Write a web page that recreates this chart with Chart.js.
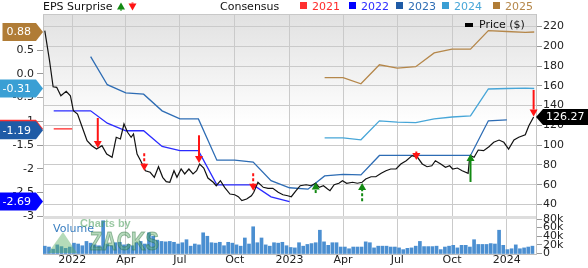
<!DOCTYPE html>
<html>
<head>
<meta charset="utf-8">
<script src="https://cdn.jsdelivr.net/npm/chart.js@4.4.1/dist/chart.umd.min.js"></script>
<style>
  html, body { margin: 0; padding: 0; background: #fff; }
  #wrap { width: 588px; height: 268px; }
</style>
</head>
<body>
<div id="wrap"><canvas id="eps-chart" width="588" height="268"></canvas></div>
<script>
/* ========================================================
   DATA (days are counted from 2022-01-01)
   ======================================================== */
const quarterDates = ['2022-01-01', '2022-04-01', '2022-07-01', '2022-10-01', '2023-01-01',
                      '2023-04-01', '2023-07-01', '2023-10-01', '2024-01-01'];
const quarterLabels = ['2022', 'Apr', 'Jul', 'Oct', '2023', 'Apr', 'Jul', 'Oct', '2024'];

const epsTicks = [0.5, 0, -0.5, -1, -1.5, -2, -2.5, -3];
const priceTicks = [40, 60, 80, 100, 120, 140, 160, 180, 200, 220];
const volumeTicks = [0, 20, 40, 60, 80]; // thousands

// weekly price line
const priceDays = [-46, -38, -32, -26, -19, -10, -3, 2, 9, 16, 25, 33, 41, 50, 58, 67, 74, 81, 87, 93,
  99, 103, 109, 115, 123, 131, 138, 145, 152, 158, 164, 171, 176, 183, 189, 196, 203, 209, 214, 221,
  228, 237, 242, 249, 256, 265, 273, 279, 285, 293, 301, 305, 312, 321, 329, 337, 346, 354, 362, 368,
  376, 383, 393, 401, 409, 415, 422, 429, 433, 440, 448, 454, 461, 471, 479, 487, 493, 502, 510, 519,
  527, 535, 544, 552, 561, 571, 580, 588, 596, 604, 610, 619, 627, 634, 639, 647, 655, 665, 667, 669,
  675, 682, 691, 700, 708, 717, 725, 733, 742, 750, 761, 767, 775];
const priceValues = [215.8, 185.4, 159.1, 158.5, 150.0, 154.5, 150.0, 134.9, 131.5, 119.7, 104.5, 99.5,
  96.1, 99.5, 91.1, 87.7, 108.0, 106.3, 121.4, 113.0, 108.0, 111.3, 91.1, 84.3, 74.2, 72.6, 67.5, 78.2,
  67.5, 63.1, 62.5, 74.2, 67.5, 75.9, 70.9, 75.9, 70.9, 74.2, 81.0, 76.9, 66.8, 62.5, 59.0, 64.1, 57.4,
  50.6, 49.9, 47.9, 43.9, 45.6, 48.9, 52.4, 62.5, 57.4, 56.4, 56.4, 52.4, 49.9, 48.9, 47.9, 54.0, 59.0,
  60.0, 59.0, 61.5, 57.4, 59.0, 55.7, 54.0, 60.0, 61.5, 64.1, 61.5, 62.5, 61.5, 62.5, 65.8, 68.1, 68.1,
  71.6, 74.2, 75.9, 75.9, 81.0, 84.3, 89.4, 87.7, 81.0, 78.2, 79.2, 84.3, 81.0, 77.6, 79.2, 75.9, 76.9,
  74.2, 71.6, 84.3, 89.4, 87.7, 95.1, 94.4, 98.5, 102.9, 105.2, 102.9, 96.1, 105.2, 108.0, 110.6, 119.7,
  128.5];
const lastPrice = '126.27';

// weekly volume, thousands
const volumeStart = '2021-11-16';
const volumeValues = [17, 15, 10, 20, 16, 12, 15, 24, 22, 18, 28, 24, 20, 18, 76, 22, 18, 25, 26, 20,
  21, 18, 25, 28, 22, 48, 40, 31, 28, 27, 28, 26, 22, 25, 32, 17, 22, 20, 48, 40,
  25, 24, 26, 18, 26, 24, 20, 17, 36, 22, 62, 25, 36, 20, 17, 25, 24, 26, 18, 14,
  13, 25, 17, 21, 23, 25, 54, 27, 19, 25, 25, 15, 15, 11, 15, 15, 15, 27, 25, 13,
  17, 17, 17, 15, 15, 13, 9, 12, 13, 17, 28, 16, 16, 16, 17, 9, 15, 17, 19, 13,
  19, 19, 15, 32, 21, 21, 21, 23, 22, 54, 19, 9, 11, 20, 11, 13, 15, 17];

// monthly consensus EPS by fiscal year
const consDates = ['2021-12-01', '2022-01-01', '2022-02-01', '2022-03-01', '2022-04-01', '2022-05-01',
  '2022-06-01', '2022-07-01', '2022-08-01', '2022-09-01', '2022-10-01', '2022-11-01', '2022-12-01',
  '2023-01-01', '2023-02-01', '2023-03-01', '2023-04-01', '2023-05-01', '2023-06-01', '2023-07-01',
  '2023-08-01', '2023-09-01', '2023-10-01', '2023-11-01', '2023-12-01', '2024-01-01', '2024-02-01',
  '2024-02-16'];
const cons2021 = [-1.16, -1.16, null, null, null, null, null, null, null, null, null, null, null, null,
  null, null, null, null, null, null, null, null, null, null, null, null, null, null];
const cons2022 = [-0.78, -0.78, -0.78, -1.04, -1.20, -1.20, -1.53, -1.62, -1.62, -2.34, -2.34, -2.34,
  -2.59, -2.69, null, null, null, null, null, null, null, null, null, null, null, null, null, null];
const cons2023 = [null, null, 0.36, -0.23, -0.40, -0.43, -0.78, -0.95, -0.95, -1.82, -1.82, -1.86,
  -2.25, -2.40, -2.43, -2.15, -2.12, -2.13, -1.72, -1.72, -1.72, -1.72, -1.72, -1.72, -0.99, -0.97,
  null, null];
const cons2024 = [null, null, null, null, null, null, null, null, null, null, null, null, null, null,
  null, -1.35, -1.35, -1.39, -0.99, -1.02, -1.03, -0.95, -0.91, -0.885, -0.32, -0.31, -0.30, -0.31];
const cons2025 = [null, null, null, null, null, null, null, null, null, null, null, null, null, null,
  null, -0.08, -0.08, -0.21, 0.19, 0.12, 0.15, 0.44, 0.52, 0.52, 0.91, 0.89, 0.87, 0.88];

// current consensus labels on the left axis
const badgeYears = ['2021', '2025', '2024', '2023', '2022'];
const badgeValues = [-1.16, 0.88, -0.31, -1.19, -2.69];

// EPS surprises: tip and tail in price units
const surpriseDays = [43, 121, 213, 304, 409, 487, 578, 669, 775];
const surpriseTip = [97.2, 74.2, 82.0, 54.0, 62.3, 61.8, 85.0, 91.1, 129.0];
const surpriseTail = [127.5, 91.8, 110.0, 71.6, 51.6, 43.3, 93.6, 62.8, 155.8];
const surpriseBeat = [false, false, false, false, true, true, false, true, false];
const surpriseMinor = [false, true, false, true, true, true, false, false, false];

/* ========================================================
   HELPERS / STYLE
   ======================================================== */
const DAY0 = Date.UTC(2022, 0, 1);
function dayOf(s) {
  const [y, m, d] = s.split('-').map(Number);
  return Math.round((Date.UTC(y, m - 1, d) - DAY0) / 864e5);
}

const yearColors = {
  '2021': '#ff2a2a',
  '2022': '#2b2bff',
  '2023': '#2d6cb4',
  '2024': '#47a6d8',
  '2025': '#b5874a'
};
const badgeColors = {
  '2021': '#ff3030',
  '2022': '#0000ff',
  '2023': '#1f5ba6',
  '2024': '#3a9fd4',
  '2025': '#b07c36'
};

// axis ranges chosen so the three panels line up with the picture
const X_MIN = -49, X_MAX = 779;
const EPS_MIN = -3.795, EPS_MAX = 1.259;
const PRICE_MIN = -10.03, PRICE_MAX = 232.64;
const VOL_MIN = -1.16, VOL_MAX = 555.4;
const FONT = "'DejaVu Sans', sans-serif";

function volToPrice(v) {
  return PRICE_MIN + (v - VOL_MIN) / (VOL_MAX - VOL_MIN) * (PRICE_MAX - PRICE_MIN);
}

function consSeries(values) {
  const out = [];
  values.forEach((v, i) => {
    if (v !== null) out.push({ x: dayOf(consDates[i]), y: v });
  });
  return out;
}

/* ========================================================
   PLUGINS
   ======================================================== */
const backdropPlugin = {
  id: 'backdrop',
  beforeDraw(chart) {
    const { ctx, chartArea: a } = chart;
    const panelTop = a.bottom - 37;
    const g = ctx.createLinearGradient(0, a.top, 0, a.top + 110);
    g.addColorStop(0, '#e1e1e1');
    g.addColorStop(1, '#ffffff');
    ctx.save();
    ctx.fillStyle = g;
    ctx.fillRect(a.left, a.top, a.right - a.left, panelTop - a.top);
    ctx.restore();
  },
  beforeDatasetsDraw(chart) {
    const { ctx, chartArea: a } = chart;
    const panelTop = a.bottom - 37;
    ctx.save();
    ctx.fillStyle = '#dddddd';
    ctx.fillRect(a.left, panelTop - 1, a.right - a.left, 3);
    ctx.strokeStyle = '#c8c8c8';
    ctx.lineWidth = 1;
    ctx.beginPath();
    ctx.moveTo(a.left, a.top + 0.5);
    ctx.lineTo(a.right, a.top + 0.5);
    ctx.stroke();
    ctx.restore();
  }
};

function drawArrow(ctx, x, yTail, yTip, color, dashed) {
  const dir = yTip > yTail ? 1 : -1;
  const headH = 7, headW = 4;
  ctx.save();
  ctx.strokeStyle = color;
  ctx.fillStyle = color;
  ctx.lineWidth = 2;
  if (dashed) ctx.setLineDash([3, 2]);
  ctx.beginPath();
  ctx.moveTo(x, yTail);
  ctx.lineTo(x, yTip - dir * headH);
  ctx.stroke();
  ctx.setLineDash([]);
  ctx.beginPath();
  ctx.moveTo(x - headW, yTip - dir * headH);
  ctx.lineTo(x + headW, yTip - dir * headH);
  ctx.lineTo(x, yTip);
  ctx.closePath();
  ctx.fill();
  ctx.restore();
}

const annotatePlugin = {
  id: 'annotate',
  afterDatasetsDraw(chart) {
    const { ctx, chartArea: a, scales } = chart;

    // volume label + watermark
    ctx.save();
    ctx.font = '11px ' + FONT;
    ctx.fillStyle = '#3a7fc1';
    ctx.textBaseline = 'alphabetic';
    ctx.fillText('Volume', a.left + 10, a.bottom - 22);

    ctx.fillStyle = 'rgba(70,155,85,0.55)';
    ctx.font = "bold 11px 'Liberation Sans', sans-serif";
    ctx.fillText('Charts by', a.left + 37, a.bottom - 27);

    ctx.beginPath();
    ctx.moveTo(a.left + 5, a.bottom - 1);
    ctx.lineTo(a.left + 20, a.bottom - 22);
    ctx.lineTo(a.left + 34, a.bottom - 1);
    ctx.closePath();
    ctx.fillStyle = 'rgba(90,175,100,0.45)';
    ctx.fill();

    ctx.translate(a.left + 47, a.bottom - 4);
    ctx.scale(0.8, 1);
    ctx.font = "bold 25px 'Liberation Sans', sans-serif";
    ctx.fillStyle = 'rgba(80,165,95,0.42)';
    ctx.fillText('ZACKS', 0, 0);
    ctx.strokeStyle = 'rgba(40,110,60,0.45)';
    ctx.lineWidth = 1;
    ctx.strokeText('ZACKS', 0, 0);
    ctx.restore();

    // surprise arrows
    surpriseDays.forEach((d, i) => {
      const x = scales.x.getPixelForValue(d);
      const yTip = scales.yPrice.getPixelForValue(surpriseTip[i]);
      const yTail = scales.yPrice.getPixelForValue(surpriseTail[i]);
      drawArrow(ctx, x, yTail, yTip, surpriseBeat[i] ? '#138a13' : '#ff1414', surpriseMinor[i]);
    });
  },
  afterDraw(chart) {
    const { ctx, chartArea: a, scales } = chart;
    ctx.save();
    ctx.font = '11px ' + FONT;
    ctx.textBaseline = 'middle';

    // left consensus badges
    badgeValues.forEach((v, i) => {
      const y = scales.yEps.getPixelForValue(v);
      const label = v.toFixed(2);
      const w = ctx.measureText(label).width;
      const right = a.left - 7;
      const left = right - 5 - w - 4;
      ctx.beginPath();
      ctx.moveTo(left, y - 9);
      ctx.lineTo(right, y - 9);
      ctx.lineTo(a.left, y);
      ctx.lineTo(right, y + 9);
      ctx.lineTo(left, y + 9);
      ctx.closePath();
      ctx.fillStyle = badgeColors[badgeYears[i]];
      ctx.fill();
      ctx.fillStyle = '#ffffff';
      ctx.textAlign = 'right';
      ctx.fillText(label, right - 5, y + 0.5);
    });

    // last price badge
    const py = scales.yPrice.getPixelForValue(priceValues[priceValues.length - 1]);
    ctx.beginPath();
    ctx.moveTo(a.right, py);
    ctx.lineTo(a.right + 7, py - 8);
    ctx.lineTo(chart.width, py - 8);
    ctx.lineTo(chart.width, py + 8);
    ctx.lineTo(a.right + 7, py + 8);
    ctx.closePath();
    ctx.fillStyle = '#000000';
    ctx.fill();
    ctx.fillStyle = '#ffffff';
    ctx.textAlign = 'left';
    ctx.fillText(lastPrice, a.right + 10, py + 0.5);

    // price legend inside the plot
    ctx.fillStyle = '#000000';
    ctx.fillRect(465, 23, 8, 4);
    ctx.fillStyle = '#111111';
    ctx.fillText('Price ($)', 479, 25.5);

    // top legend
    ctx.textBaseline = 'alphabetic';
    ctx.fillText('EPS Surprise', a.left, 10);
    drawArrow(ctx, 121, 10.5, 2.5, '#138a13', false);
    drawArrow(ctx, 132.5, 2.5, 10.5, '#ff1414', false);
    ctx.fillStyle = '#111111';
    ctx.fillText('Consensus', 220, 10);
    const legendX = [300, 349, 396, 442, 493];
    ['2021', '2022', '2023', '2024', '2025'].forEach((yr, i) => {
      ctx.fillStyle = badgeColors[yr];
      ctx.fillRect(legendX[i], 2, 7, 7);
      ctx.fillStyle = yearColors[yr];
      ctx.fillText(yr, legendX[i] + 12, 10);
    });
    ctx.restore();
  }
};

/* ========================================================
   CHART
   ======================================================== */
const quarterDays = quarterDates.map(dayOf);
const volStartDay = dayOf(volumeStart);

const datasets = [
  {
    type: 'line',
    label: 'Price ($)',
    data: priceDays.map((d, i) => ({ x: d, y: priceValues[i] })),
    yAxisID: 'yPrice',
    borderColor: '#111111',
    borderWidth: 1.2,
    pointRadius: 0,
    order: 0
  }
];
[['2021', cons2021], ['2022', cons2022], ['2023', cons2023], ['2024', cons2024], ['2025', cons2025]]
  .forEach(([yr, vals]) => {
    datasets.push({
      type: 'line',
      label: yr,
      data: consSeries(vals),
      yAxisID: 'yEps',
      borderColor: yearColors[yr],
      borderWidth: 1.3,
      pointRadius: 0,
      order: 1
    });
  });
datasets.push({
  type: 'bar',
  label: 'Volume',
  data: volumeValues.map((v, i) => ({ x: volStartDay + 7 * i, y: v })),
  yAxisID: 'yVol',
  backgroundColor: '#4b8fd1',
  barThickness: 3,
  borderWidth: 0,
  order: 2
});

Chart.defaults.font.family = FONT;
Chart.defaults.font.size = 11;
Chart.defaults.color = '#222222';

new Chart(document.getElementById('eps-chart').getContext('2d'), {
  type: 'line',
  data: { datasets },
  options: {
    responsive: false,
    animation: false,
    devicePixelRatio: 1,
    layout: { padding: { top: 14, left: 0, right: 0, bottom: 0 } },
    plugins: { legend: { display: false }, tooltip: { enabled: false } },
    scales: {
      x: {
        type: 'linear',
        min: X_MIN,
        max: X_MAX,
        offset: false,
        afterBuildTicks: s => { s.ticks = quarterDays.map(v => ({ value: v })); },
        afterFit: s => { s.height = 14; },
        ticks: {
          autoSkip: false,
          maxRotation: 0,
          padding: 0,
          color: '#222222',
          callback: (v, i) => quarterLabels[i]
        },
        grid: { color: '#cacaca', drawTicks: false, offset: false },
        border: { color: '#bdbdbd' }
      },
      yEps: {
        type: 'linear',
        position: 'left',
        min: EPS_MIN,
        max: EPS_MAX,
        afterBuildTicks: s => { s.ticks = epsTicks.map(v => ({ value: v })); },
        afterFit: s => { s.width = 43; },
        ticks: {
          autoSkip: false,
          padding: 3,
          color: '#222222',
          callback: v => (v === 0 ? '0.0' : String(v))
        },
        grid: { drawOnChartArea: false, drawTicks: true, tickLength: 6, tickColor: '#999999' },
        border: { color: '#c4c4c4' }
      },
      yPrice: {
        type: 'linear',
        position: 'right',
        min: PRICE_MIN,
        max: PRICE_MAX,
        afterBuildTicks: s => {
          s.ticks = priceTicks.map(v => ({ value: v }))
            .concat(volumeTicks.map(v => ({ value: volToPrice(v), vol: v })));
        },
        afterFit: s => { s.width = 52; },
        ticks: {
          autoSkip: false,
          padding: 1,
          color: '#222222',
          callback: (v, i, ticks) => {
            const t = ticks[i];
            if (t.vol !== undefined) return t.vol === 0 ? '0' : t.vol + 'k';
            return String(v);
          }
        },
        grid: {
          color: c => (c.tick && c.tick.vol !== undefined ? 'rgba(0,0,0,0)' : '#cacaca'),
          tickColor: '#999999',
          tickLength: 6
        },
        border: { color: '#c4c4c4' }
      },
      yVol: {
        type: 'linear',
        display: false,
        min: VOL_MIN,
        max: VOL_MAX
      }
    }
  },
  plugins: [backdropPlugin, annotatePlugin]
});
</script>
</body>
</html>
